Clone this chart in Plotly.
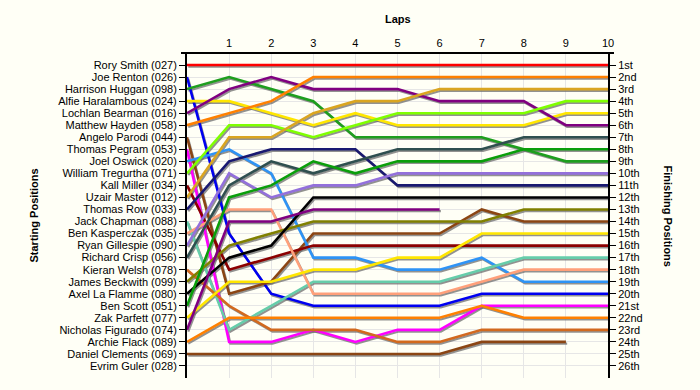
import plotly.graph_objects as go

laps = [0, 1, 2, 3, 4, 5, 6, 7, 8, 9, 10]
lap_ticks = [1, 2, 3, 4, 5, 6, 7, 8, 9, 10]

drivers = [
    "Rory Smith (027)", "Joe Renton (026)", "Harrison Huggan (098)", "Alfie Haralambous (024)",
    "Lochlan Bearman (016)", "Matthew Hayden (058)", "Angelo Parodi (044)", "Thomas Pegram (053)",
    "Joel Oswick (020)", "William Tregurtha (071)", "Kall Miller (034)", "Uzair Master (012)",
    "Thomas Row (033)", "Jack Chapman (088)", "Ben Kasperczak (035)", "Ryan Gillespie (090)",
    "Richard Crisp (056)", "Kieran Welsh (078)", "James Beckwith (099)", "Axel La Flamme (080)",
    "Ben Scott (051)", "Zak Parfett (077)", "Nicholas Figurado (074)", "Archie Flack (089)",
    "Daniel Clements (069)", "Evrim Guler (028)",
]

finishing_labels = [
    "1st", "2nd", "3rd", "4th", "5th", "6th", "7th", "8th", "9th", "10th", "11th", "12th", "13th",
    "14th", "15th", "16th", "17th", "18th", "19th", "20th", "21st", "22nd", "23rd", "24th", "25th", "26th",
]

positions = [
    [1, 1, 1, 1, 1, 1, 1, 1, 1, 1, 1],
    [2, 15, 20, 21, 21, 21, 21, 20, 20, 20, 20],
    [3, 2, 3, 4, 7, 7, 7, 7, 8, 9, 9],
    [4, 4, 5, 6, 5, 6, 6, 6, 6, 5, 5],
    [5, 3, 2, 3, 3, 3, 4, 4, 4, 6, 6],
    [6, 5, 4, 2, 2, 2, 2, 2, 2, 2, 2],
    [7, 20, 19, 15, 15, 15, 15, 13, 14, 14, 14],
    [8, 24, 24, 23, 24, 23, 23, 21, 21, 21, 21],
    [9, 8, 10, 17, 17, 18, 18, 17, 19, 19, 19],
    [10, 6, 6, 7, 6, 5, 5, 5, 5, 4, 4],
    [11, 18, 17, 16, 16, 16, 16, 16, 16, 16, 16],
    [12, 7, 7, 5, 4, 4, 3, 3, 3, 3, 3],
    [13, 9, 8, 8, 8, 11, 11, 11, 11, 11, 11],
    [14, 23, 21, 19, 19, 19, 19, 18, 17, 17, 17],
    [15, 13, 13, 20, 20, 20, 20, 19, 18, 18, 18],
    [16, 10, 12, 11, 11, 10, 10, 10, 10, 10, 10],
    [17, 11, 9, 10, 9, 8, 8, 8, 7, 7, 7],
    [18, 21, 23, 23, 23, 24, 24, 23, 23, 23, 23],
    [19, 16, 15, 14, 14, 14, 14, 14, 13, 13, 13],
    [20, 17, 16, 12, 12, 12, 12, 12, 12, 12, 12],
    [21, 12, 11, 9, 10, 9, 9, 9, 8, 8, 8],
    [22, 19, 19, 18, 18, 17, 17, 15, 15, 15, 15],
    [23, 14, 14, 13, 13, 13, 13],
    [24, 22, 22, 22, 22, 22, 22, 21, 22, 22, 22],
    [25, 25, 25, 25, 25, 25, 25, 24, 24, 24],
    [],
]

colors = [
    "#FF0000", "#0000F0", "#1E9E1E", "#FFE600", "#800080", "#FF8000", "#8B4513", "#FF00FF",
    "#2E93F5", "#7FFF00", "#8B0000", "#DAA520", "#191970", "#66CDAA", "#FFA07A", "#9370DB",
    "#2F4F4F", "#D2691E", "#808000", "#000000", "#0A9E0A", "#FFE600", "#800080", "#FF8000",
    "#8B4513", "#888888",
]

n = len(drivers)
fig = go.Figure()

# drop shadows
for pos in positions:
    if not pos:
        continue
    xs = laps[:len(pos)]
    fig.add_trace(go.Scatter(
        x=[v + 0.03 for v in xs], y=[p + 0.14 for p in pos], mode="lines",
        line=dict(color="rgba(110,110,110,0.75)", width=2.2),
        hoverinfo="skip", showlegend=False,
    ))

for name, pos, col in zip(drivers, positions, colors):
    if not pos:
        continue
    fig.add_trace(go.Scatter(
        x=laps[:len(pos)], y=pos, mode="lines", name=name,
        line=dict(color=col, width=2.6),
        showlegend=False,
    ))

# invisible trace to activate right axis
fig.add_trace(go.Scatter(x=[0], y=[1], yaxis="y2", mode="markers",
                         marker=dict(opacity=0), hoverinfo="skip", showlegend=False))

rows = list(range(1, n + 1))
font_main = "Liberation Sans, Arial, sans-serif"

fig.update_layout(
    width=700, height=390,
    margin=dict(l=187, r=92, t=53, b=12),
    paper_bgcolor="#FFFFF6",
    plot_bgcolor="#FFFFF6",
    font=dict(family=font_main, size=11, color="#000000"),
    xaxis=dict(
        side="top", range=[0, 10], tickvals=lap_ticks, ticktext=[str(v) for v in lap_ticks],
        showgrid=True, gridcolor="#E6E6E6", gridwidth=1, zeroline=False,
        showline=False, ticks="", tickfont=dict(size=11, color="#000000"),
        ticklabelstandoff=3, fixedrange=True,
    ),
    yaxis=dict(
        range=[n + 1, 0], tickvals=rows, ticktext=drivers,
        showgrid=True, gridcolor="#E6E6E6", gridwidth=1, zeroline=False,
        showline=True, linecolor="#000000", linewidth=2, mirror=False,
        ticks="outside", ticklen=6, tickcolor="#000000", tickwidth=1,
        tickfont=dict(size=11, color="#000000"), fixedrange=True,
    ),
    yaxis2=dict(
        range=[n + 1, 0], tickvals=rows, ticktext=finishing_labels,
        overlaying="y", side="right", anchor="x",
        showgrid=False, zeroline=False,
        showline=True, linecolor="#000000", linewidth=2,
        ticks="outside", ticklen=6, tickcolor="#000000", tickwidth=1,
        tickfont=dict(size=11, color="#000000"), fixedrange=True,
    ),
    shapes=[
        dict(type="line", xref="paper", yref="paper", x0=-6 / 421, x1=1 + 6 / 421, y0=1, y1=1,
             line=dict(color="#000000", width=2)),
    ],
    annotations=[
        dict(text="<b>Laps</b>", xref="paper", yref="paper", x=0.5, y=1, yshift=42,
             showarrow=False, font=dict(size=11, family=font_main)),
        dict(text="<b>Starting Positions</b>", xref="paper", yref="paper", x=0, xshift=-162, y=0.5,
             textangle=-90, showarrow=False, font=dict(size=11, family=font_main)),
        dict(text="<b>Finishing Positions</b>", xref="paper", yref="paper", x=1, xshift=68, y=0.5,
             textangle=90, showarrow=False, font=dict(size=11, family=font_main)),
    ],
)

fig.write_html(
    "out.html",
    config={"displayModeBar": False},
    post_script="document.body.style.margin='0';document.body.style.overflow='hidden';"
                "document.body.style.background='#FFFFF6';",
)
